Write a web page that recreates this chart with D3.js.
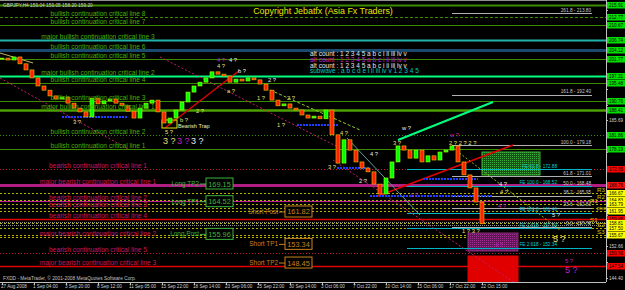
<!DOCTYPE html>
<html>
<head>
<meta charset="utf-8">
<script src="https://cdn.jsdelivr.net/npm/d3@7/dist/d3.min.js"></script>
<style>
body { margin: 0; background: #000; }
svg { display: block; font-family: "Liberation Sans", Arial, sans-serif; }
</style>
</head>
<body>
<svg id="chart"></svg>
<script>
// GBPJPY H4, one close read every 3 bars from 27 Aug 2008
var closes = [202.0, 201.5, 202.3, 200.5, 198.9, 196.8, 194.7, 193.6, 192.1, 191.3,
  191.8, 190.2, 188.9, 187.9, 186.6, 191.5, 190.0, 190.8, 191.3, 190.2,
  189.5, 188.1, 186.3, 188.9, 190.2, 191.0, 187.9, 185.0, 186.3, 188.4,
  190.5, 193.1, 194.7, 195.7, 196.8, 198.4, 197.8, 197.3, 195.7, 196.5,
  196.0, 196.8, 196.3, 195.2, 193.6, 191.0, 189.5, 190.0, 188.9, 188.4,
  187.1, 186.3, 186.8, 186.1, 188.4, 181.9, 174.5, 180.6, 177.9, 174.8,
  173.2, 172.2, 169.0, 166.4, 170.6, 174.8, 179.0, 177.9, 175.8, 177.9,
  174.8, 176.4, 175.3, 177.4, 177.9, 179.0, 174.8, 171.4, 168.0, 164.3,
  158.6];

var timeLabels = ["27 Aug 2008", "1 Sep 04:00", "3 Sep 20:00", "8 Sep 12:00", "11 Sep 05:00",
  "15 Sep 22:00", "18 Sep 14:00", "23 Sep 06:00", "25 Sep 22:00", "30 Sep 14:00",
  "3 Oct 06:00", "7 Oct 22:00", "10 Oct 14:00", "15 Oct 06:00", "17 Oct 22:00", "22 Oct 15:00"];

var priceTicks = [144.40, 148.53, 152.66, 156.79, 160.92, 165.05, 169.18, 173.31, 177.44,
  181.56, 185.69, 189.82, 193.95, 198.08, 202.21, 206.34, 210.47, 214.60];

var levelNames = ["", "bullish continuation critical line 8", "bullish continuation critical line 7",
  "major bullish continuation critical line 3", "bullish continuation critical line 6",
  "bullish continuation critical line 5", "major bullish continuation critical line 2",
  "bullish continuation critical line 4", "bullish continuation critical line 3",
  "major bullish continuation critical line 1", "bullish continuation critical line 2",
  "bullish continuation critical line 1",
  "bearish continuation critical line 1", "major bearish continuation critical line 1",
  "bearish continuation critical line 2", "bearish continuation critical line 3",
  "bearish continuation critical line 4", "major bearish continuation critical line 2",
  "bearish continuation critical line 5", "major bearish continuation critical line 3"];
var levelPrices = [215.91, 212.77, 210.67, 206.74, 204.12, 201.77, 197.31, 195.48, 190.76, 188.41,
  181.86, 178.19, 172.95, 168.76, 164.57, 162.75, 159.86, 155.14, 150.95, 147.54];
var levelKinds = ["olive", "greenDash", "green", "teal", "navy", "green", "spring", "green", "green",
  "majorGreen", "greenDot", "green", "crimsonDot", "magentaThick", "magenta", "khakiDot", "red",
  "khakiDot", "crimsonDot", "red"];

var pivotNames = ["R3", "R2", "R1", "pivot", "S1", "S2", "S3"];
var pivotPrices = [166.67, 164.83, 163.79, 161.95, 158.81, 157.50, 155.67];
var guidePrices = [159.07, 158.29];

var fibNames = ["261.8 - 213.80", "161.8 - 192.40", "100.0 - 179.18", "61.8 - 171.01",
  "50.0 - 168.48", "38.2 - 165.95", "23.6 - 162.83", "0.0 - 157.78"];
var fibPrices = [213.80, 192.40, 179.18, 171.01, 168.48, 165.95, 162.83, 157.78];

var feNames = ["FE 61.8 - 172.88", "FE 100.0 - 168.52", "FE 161.8 - 161.46", "FE 1.618 - 157.39", "FE 2.618 - 152.34"];
var fePrices = [172.88, 168.52, 161.46, 157.39, 152.34];

var tradeNames = ["Long TP2", "Long TP1", "Long Post", "Short Post", "Short TP1", "Short TP2"];
var tradePrices = [169.15, 164.52, 155.96, 161.82, 153.34, 148.45];
var tradeSides = ["long", "long", "long", "short", "short", "short"];

var zoneBars = [[240, 269], [233, 258], [233, 258]];
var zonePrices = [[171.38, 177.40], [151.47, 156.19], [143.40, 150.16]];
var zoneKinds = ["greenZone", "purpleZone", "redZone"];
var trapBars = [80, 87.5];
var trapPrices = [183.69, 185.79];

var trendBars = [[81.5, 119], [188, 255.5], [198, 245.5], [-1, 64], [79, 169], [165.5, 261.5],
  [225.5, 279], [134, 179], [172.5, 209], [-1, 15.5]];
var trendPrices = [[183.69, 198.88], [165.88, 179.24], [180.55, 190.50], [196.79, 177.93],
  [202.29, 178.45], [175.31, 141.26], [178.45, 156.97], [193.65, 183.17], [181.07, 160.90],
  [203.34, 200.72]];
var trendKinds = ["red", "red", "spring", "pinkDot", "pinkDot", "pinkDot", "oliveDot", "ygDash", "tealThin", "tan"];

var supportBars = [[30, 63], [147.5, 168], [167.5, 184], [210.5, 238], [184, 245]];
var supportPrices = [186.57, 184.48, 173.21, 170.33, 165.88];

var waveBars = [35.5, 81.5, 89, 97, 107.5, 113.5, 107.5, 118, 112.5, 133, 127.5, 142.5, 137.5, 169, 184,
  163, 178.5, 200, 195.5, 224, 223.5, 248.5, 249, 248, 275, 204, 230, 246.5, 281.5];
var wavePrices = [184.74, 182.12, 185.26, 187.62, 200.98, 200.98, 199.41, 198.10, 192.86, 195.74,
  191.03, 191.03, 183.95, 181.86, 176.36, 172.95, 169.29, 183.17, 179.24, 181.33, 179.24, 168.50,
  166.40, 162.74, 160.38, 165.62, 156.19, 152.52, 148.33];
var waveTexts = ["3 ?", "5 ?", "b ?", "2 ?", "4 ?", "4 ?", "4 ?", "b ?", "a ?", "2 ?", "1 ?", "2 ?", "1 ?",
  "4 ?", "4 ?", "3 ?", "2 ?", "w ?", "3 ?", "w ?", "2 ? 2 ? 2 ?", "4 ?", "4 ?", "4 ?", "5 ?", "1 ?",
  "1 ? 3 ?", "4 ?", "5 ?"];
var waveColors = ["y", "y", "y", "y", "m", "w", "y", "w", "y", "w", "y", "y", "y", "y", "w", "y", "w",
  "w", "y", "m", "y", "w", "y", "m", "w", "m", "y", "m", "m"];

var bigWaveBars = [80.5, 87.5, 94.5, 275.5, 281.5];
var bigWavePrices = [179.50, 179.50, 179.50, 153.83, 145.71];
var bigWaveTexts = ["3 ?", "3 ?", "3 ?", "5 ?", "5 ?"];
var bigWaveColors = ["y", "m", "w", "y", "m"];

var legendLines = ["alt count : 1 2 3 4 5 a b c i ii iii iv v", "alt count : 1 2 3 4 5 a b c i ii iii iv v",
  "alt count : 1 2 3 4 5 a b c i ii iii iv v", "subwave : a b c d e i ii iii iv v 1 2 3 4 5"];
var legendColors = ["w", "m", "w", "c"];

// ---------------------------------------------------------------
var W = 625, H = 290, plotRight = 606, plotBottom = 282;
var svg = d3.select("#chart").attr("width", W).attr("height", H);
var x = d3.scaleLinear().domain([0, 302]).range([2, 606]);
var y = d3.scaleLinear().domain([144.40, 214.60]).range([278, 10]);
var fmt = d3.format(".2f");

var palette = {y: "#e6e07a", m: "#c020c0", w: "#e8e8e8", c: "#00c8c8"};
var lineStyle = {
  olive: {c: "#3c8c00", w: 2}, green: {c: "#3c8c00", w: 1}, greenDash: {c: "#3c8c00", w: 1, d: "3,2"},
  greenDot: {c: "#3c8c00", w: 1, d: "1,2"}, teal: {c: "#20b2aa", w: 2}, navy: {c: "#1c4a6e", w: 3},
  spring: {c: "#00ff7f", w: 2}, majorGreen: {c: "#4ca000", w: 2.5}, crimsonDot: {c: "#c8143c", w: 1, d: "1,2"},
  magentaThick: {c: "#b01e82", w: 3}, magenta: {c: "#c01e8c", w: 1}, red: {c: "#e00000", w: 1.3},
  khakiDot: {c: "#b4b400", w: 1, d: "2,2"}, pinkDot: {c: "#c0206e", w: 1, d: "2,2"},
  oliveDot: {c: "#8fbc00", w: 1, d: "2,2"}, ygDash: {c: "#9acd32", w: 1, d: "3,2"},
  tealThin: {c: "#5f9ea0", w: 1}, tan: {c: "#c8b464", w: 1}
};
// price tag colour for each level kind (null: tag hidden behind a pivot tag)
var labelBg = {olive: "#00e000", green: "#00e000", greenDash: "#00e000", greenDot: "#00e000", teal: "#00e000",
  navy: "#00e000", spring: "#00e000", majorGreen: "#00e000", crimsonDot: "#ff0000", magentaThick: "#ff1010",
  magenta: null, red: "#ff0000", khakiDot: null};

var defs = svg.append("defs");
defs.append("clipPath").attr("id", "plot").append("rect")
  .attr("x", 0).attr("y", 0).attr("width", plotRight).attr("height", plotBottom);
function hatch(id, bg, fg) {
  var p = defs.append("pattern").attr("id", id).attr("width", 2).attr("height", 2)
    .attr("patternUnits", "userSpaceOnUse");
  p.append("rect").attr("width", 2).attr("height", 2).attr("fill", bg);
  p.append("rect").attr("width", 1).attr("height", 1).attr("fill", fg);
}
hatch("gz", "#1a501a", "#3caa3c");
hatch("pz", "#5a1a55", "#a0308e");
var zoneFill = {greenZone: "url(#gz)", purpleZone: "url(#pz)", redZone: "#e00000"};
var zoneStroke = {greenZone: "#3cb43c", purpleZone: "#8a2a7a", redZone: "#e00000"};

var plot = svg.append("g").attr("clip-path", "url(#plot)");

// horizontal critical lines
plot.append("g").selectAll("line").data(levelPrices).join("line")
  .attr("x1", 0).attr("x2", plotRight)
  .attr("y1", d => Math.round(y(d)) + 0.5).attr("y2", d => Math.round(y(d)) + 0.5)
  .attr("stroke", (d, i) => lineStyle[levelKinds[i]].c)
  .attr("stroke-width", (d, i) => lineStyle[levelKinds[i]].w)
  .attr("stroke-dasharray", (d, i) => lineStyle[levelKinds[i]].d || null);

plot.append("g").selectAll("line").data(pivotPrices).join("line")
  .attr("x1", 0).attr("x2", plotRight)
  .attr("y1", d => Math.round(y(d)) + 0.5).attr("y2", d => Math.round(y(d)) + 0.5)
  .attr("stroke", "#b4b400").attr("stroke-dasharray", "2,2");

plot.append("g").selectAll("line").data(guidePrices).join("line")
  .attr("x1", 0).attr("x2", plotRight)
  .attr("y1", d => Math.round(y(d)) + 0.5).attr("y2", d => Math.round(y(d)) + 0.5)
  .attr("stroke", "#909090").attr("stroke-dasharray", "1,1");

// zones
plot.append("g").selectAll("rect").data(zoneKinds).join("rect")
  .attr("x", (d, i) => x(zoneBars[i][0])).attr("width", (d, i) => x(zoneBars[i][1]) - x(zoneBars[i][0]))
  .attr("y", (d, i) => y(zonePrices[i][1])).attr("height", (d, i) => y(zonePrices[i][0]) - y(zonePrices[i][1]))
  .attr("fill", d => zoneFill[d]).attr("stroke", d => zoneStroke[d]);

// fibonacci retracement and expansion
plot.append("g").selectAll("line").data(fibPrices).join("line")
  .attr("x1", x(225)).attr("x2", 592)
  .attr("y1", d => Math.round(y(d)) + 0.5).attr("y2", d => Math.round(y(d)) + 0.5)
  .attr("stroke", "#b0b0b0");
svg.append("g").selectAll("text").data(fibNames).join("text")
  .attr("x", 591).attr("y", (d, i) => y(fibPrices[i]) - 1.5)
  .attr("text-anchor", "end").attr("font-size", 4.7).attr("fill", "#c8c8c8").text(d => d);

plot.append("g").selectAll("line").data(fePrices).join("line")
  .attr("x1", x(202.5)).attr("x2", 592)
  .attr("y1", d => Math.round(y(d)) + 0.5).attr("y2", d => Math.round(y(d)) + 0.5)
  .attr("stroke", "#00b4c8");
svg.append("g").selectAll("text").data(feNames).join("text")
  .attr("x", 557).attr("y", (d, i) => y(fePrices[i]) - 1.5)
  .attr("text-anchor", "end").attr("font-size", 4.7).attr("fill", "#00d0d0").text(d => d);

// trend lines
plot.append("g").selectAll("line").data(trendKinds).join("line")
  .attr("x1", (d, i) => x(trendBars[i][0])).attr("x2", (d, i) => x(trendBars[i][1]))
  .attr("y1", (d, i) => y(trendPrices[i][0])).attr("y2", (d, i) => y(trendPrices[i][1]))
  .attr("stroke", d => lineStyle[d].c).attr("stroke-width", d => d === "red" ? 1.5 : lineStyle[d].w)
  .attr("stroke-dasharray", d => lineStyle[d].d || null);

// blue support segments
plot.append("g").selectAll("line").data(supportPrices).join("line")
  .attr("x1", (d, i) => x(supportBars[i][0])).attr("x2", (d, i) => x(supportBars[i][1]))
  .attr("y1", d => y(d)).attr("y2", d => y(d))
  .attr("stroke", "#2040ff").attr("stroke-width", 2).attr("stroke-dasharray", "2,1");

// critical line captions
svg.append("g").selectAll("text").data(levelNames).join("text")
  .attr("x", 98).attr("y", (d, i) => Math.round(y(levelPrices[i])) - 1)
  .attr("text-anchor", "middle").attr("font-size", 6.65)
  .attr("fill", (d, i) => i < 12 ? "#46b400" : "#d2145a").text(d => d);

// bearish trap
plot.append("rect").attr("x", x(trapBars[0])).attr("width", x(trapBars[1]) - x(trapBars[0]))
  .attr("y", y(trapPrices[1])).attr("height", y(trapPrices[0]) - y(trapPrices[1]))
  .attr("fill", "none").attr("stroke", "#e6e600");
svg.append("text").attr("x", x(88)).attr("y", y(183.69)).attr("font-size", 5.6)
  .attr("fill", "#f0f0b0").text("Bearish Trap");

// price bars
var bars = closes.map((c, i) => ({bar: i * 3, close: c, open: i ? closes[i - 1] : c}));
plot.append("g").selectAll("rect").data(bars).join("rect")
  .attr("x", d => x(d.bar) - 2).attr("width", 4)
  .attr("y", d => y(Math.max(d.open, d.close)))
  .attr("height", d => Math.max(1, Math.abs(y(d.open) - y(d.close))))
  .attr("fill", d => d.close >= d.open ? "#00ff00" : "#ff2000")
  .attr("stroke", d => d.close >= d.open ? "#b4ff00" : "#e6c800").attr("stroke-width", 0.6);

// wave count labels
svg.append("g").selectAll("text").data(waveTexts).join("text")
  .attr("x", (d, i) => x(waveBars[i])).attr("y", (d, i) => y(wavePrices[i]))
  .attr("font-size", 5.8).attr("fill", (d, i) => palette[waveColors[i]]).text(d => d);
svg.append("g").selectAll("text").data(bigWaveTexts).join("text")
  .attr("x", (d, i) => x(bigWaveBars[i])).attr("y", (d, i) => y(bigWavePrices[i]))
  .attr("font-size", 9).attr("fill", (d, i) => palette[bigWaveColors[i]]).text(d => d);

// pivot captions
svg.append("g").selectAll("text").data(pivotNames).join("text")
  .attr("x", (d, i) => i === 2 || i === 4 ? 590 : 597).attr("y", (d, i) => y(pivotPrices[i]) - 1)
  .attr("font-size", d => d === "pivot" ? 4.8 : 6.2).attr("fill", "#d4c800").text(d => d);

// trade levels
var tradeColor = {long: "#3cb43c", short: "#c8821e"};
var trades = svg.append("g").selectAll("g").data(tradeNames).join("g")
  .attr("transform", (d, i) => "translate(0," + y(tradePrices[i]) + ")");
trades.append("text").attr("x", (d, i) => tradeSides[i] === "long" ? 199 : 278).attr("y", 2.3)
  .attr("text-anchor", "end").attr("font-size", 6.4)
  .attr("fill", (d, i) => tradeColor[tradeSides[i]]).text(d => d);
trades.append("line").attr("x1", (d, i) => tradeSides[i] === "long" ? 200 : 279)
  .attr("x2", (d, i) => tradeSides[i] === "long" ? 206 : 285).attr("y1", 0.5).attr("y2", 0.5)
  .attr("stroke", (d, i) => tradeColor[tradeSides[i]]);
trades.append("rect").attr("x", (d, i) => tradeSides[i] === "long" ? 206 : 285).attr("y", -5.5)
  .attr("width", 27).attr("height", 11).attr("fill", "#000")
  .attr("stroke", (d, i) => tradeColor[tradeSides[i]]);
trades.append("text").attr("x", (d, i) => tradeSides[i] === "long" ? 219.5 : 298.5).attr("y", 3)
  .attr("text-anchor", "middle").attr("font-size", 7.4)
  .attr("fill", (d, i) => tradeColor[tradeSides[i]]).text((d, i) => fmt(tradePrices[i]));

// legend and titles
svg.append("g").selectAll("text").data(legendLines).join("text")
  .attr("x", 310).attr("y", (d, i) => [56, 62, 67.5, 73][i])
  .attr("font-size", 6.5).attr("fill", (d, i) => palette[legendColors[i]]).text(d => d);
svg.append("text").attr("x", 323).attr("y", 14).attr("text-anchor", "middle").attr("font-size", 8.9)
  .attr("fill", "#e6e600").text("Copyright Jebatfx (Asia Fx Traders)");
svg.append("text").attr("x", 3).attr("y", 6.5).attr("font-size", 4.8).attr("fill", "#d0d0d0")
  .text("GBPJPY,H4  159.04 159.05 158.20 159.20");
svg.append("text").attr("x", 3).attr("y", 280).attr("font-size", 4.8).attr("fill", "#c0c0c0")
  .text("FXDD - MetaTrader, \u00a9 2001-2008 MetaQuotes Software Corp.");

// axes frame
svg.append("line").attr("x1", 0).attr("x2", plotRight).attr("y1", 0.5).attr("y2", 0.5).attr("stroke", "#909090");
svg.append("line").attr("x1", plotRight + 0.5).attr("x2", plotRight + 0.5).attr("y1", 0).attr("y2", plotBottom)
  .attr("stroke", "#c0c0c0");
svg.append("line").attr("x1", 0).attr("x2", plotRight).attr("y1", plotBottom + 0.5).attr("y2", plotBottom + 0.5)
  .attr("stroke", "#c0c0c0");

// time axis
var tAxis = svg.append("g").selectAll("g").data(timeLabels).join("g")
  .attr("transform", (d, i) => "translate(" + Math.round(x(i * 16)) + ",0)");
tAxis.append("line").attr("x1", 0.5).attr("x2", 0.5).attr("y1", plotBottom).attr("y2", plotBottom + 3)
  .attr("stroke", "#c0c0c0");
tAxis.append("text").attr("x", -1).attr("y", 288).attr("font-size", 4.6).attr("fill", "#d0d0d0").text(d => d);

// coloured price tags of drawn levels
var tagPrices = [], tagColors = [];
levelPrices.forEach((p, i) => { if (labelBg[levelKinds[i]]) { tagPrices.push(p); tagColors.push(labelBg[levelKinds[i]]); } });
pivotPrices.forEach(p => { tagPrices.push(p); tagColors.push("#ffff00"); });

// price axis: grey ticks that a coloured tag covers are not drawn
var freeTicks = priceTicks.filter(t => tagPrices.every(p => Math.abs(y(p) - y(t)) > 6.5));
svg.append("g").selectAll("line").data(priceTicks).join("line")
  .attr("x1", plotRight).attr("x2", plotRight + 2)
  .attr("y1", d => Math.round(y(d)) + 0.5).attr("y2", d => Math.round(y(d)) + 0.5).attr("stroke", "#c0c0c0");
svg.append("g").selectAll("text").data(freeTicks).join("text")
  .attr("x", 609).attr("y", d => Math.round(y(d)) + 2).attr("font-size", 4.6).attr("fill", "#d0d0d0").text(d => fmt(d));

var tags = svg.append("g").selectAll("g").data(tagPrices).join("g")
  .attr("transform", d => "translate(0," + Math.round(y(d)) + ")");
tags.append("rect").attr("x", 607).attr("y", -3).attr("width", 18).attr("height", 6.5)
  .attr("fill", (d, i) => tagColors[i]);
tags.append("text").attr("x", 609).attr("y", 2).attr("font-size", 4.6).attr("fill", "#000").text(d => fmt(d));
</script>
</body>
</html>
